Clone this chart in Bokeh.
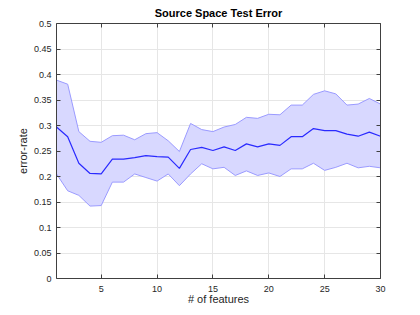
from bokeh.plotting import figure
from bokeh.models import ColumnDataSource, FixedTicker, LinearAxis, Range1d, Title
from bokeh.embed import file_html
from bokeh.resources import INLINE

n_features = list(range(1, 31))
mean_err = [0.297, 0.278, 0.226, 0.206, 0.205, 0.234, 0.234, 0.237, 0.241, 0.239,
            0.238, 0.216, 0.253, 0.257, 0.251, 0.258, 0.251, 0.264, 0.258, 0.264,
            0.261, 0.278, 0.278, 0.294, 0.290, 0.290, 0.283, 0.279, 0.287, 0.279]
upper_err = [0.389, 0.381, 0.288, 0.269, 0.267, 0.280, 0.281, 0.272, 0.284, 0.286,
             0.270, 0.249, 0.304, 0.292, 0.288, 0.297, 0.302, 0.316, 0.314, 0.322,
             0.321, 0.340, 0.340, 0.361, 0.368, 0.362, 0.340, 0.342, 0.353, 0.342]
lower_err = [0.205, 0.172, 0.163, 0.142, 0.143, 0.189, 0.189, 0.205, 0.198, 0.191,
             0.205, 0.182, 0.205, 0.225, 0.215, 0.218, 0.202, 0.211, 0.202, 0.207,
             0.200, 0.215, 0.215, 0.226, 0.212, 0.218, 0.226, 0.217, 0.220, 0.217]
x_ticks = [5, 10, 15, 20, 25, 30]
y_ticks = [0, 0.05, 0.1, 0.15, 0.2, 0.25, 0.3, 0.35, 0.4, 0.45, 0.5]
y_labels = ["0", "0.05", "0.1", "0.15", "0.2", "0.25", "0.3", "0.35", "0.4", "0.45", "0.5"]

src = ColumnDataSource(dict(x=n_features, m=mean_err, lo=lower_err, hi=upper_err))

p = figure(width=412, height=307, output_backend="svg", toolbar_location=None,
           x_range=Range1d(1, 30), y_range=Range1d(0, 0.5),
           min_border_left=56, min_border_right=32, min_border_bottom=27, min_border_top=23)
p.title = Title(text="Source Space Test Error", align="center",
                text_font="Liberation Sans", text_font_size="11px", text_font_style="bold",
                text_color="#000000", standoff=9)
p.outline_line_color = None
p.background_fill_color = "white"

p.varea(x="x", y1="lo", y2="hi", source=src, fill_color="#d8d8ff", fill_alpha=1)
p.line(x="x", y="hi", source=src, line_color="#9a9aff", line_width=1)
p.line(x="x", y="lo", source=src, line_color="#9a9aff", line_width=1)
p.line(x="x", y="m", source=src, line_color="#2a2aff", line_width=1.2)

p.xgrid.ticker = FixedTicker(ticks=x_ticks)
p.ygrid.ticker = FixedTicker(ticks=y_ticks)
p.xgrid.grid_line_color = "#e6e6e6"
p.ygrid.grid_line_color = "#e6e6e6"
p.grid.level = "underlay"

ax_col = "#404040"
for ax in [p.xaxis[0], p.yaxis[0]]:
    ax.axis_line_color = ax_col
    ax.major_tick_line_color = ax_col
    ax.major_tick_in = 4
    ax.major_tick_out = 0
    ax.minor_tick_line_color = None
    ax.major_label_text_font = "Liberation Sans"
    ax.major_label_text_font_size = "9px"
    ax.major_label_text_color = "#262626"
    ax.axis_label_text_font = "Liberation Sans"
    ax.axis_label_text_font_size = "11px"
    ax.axis_label_text_font_style = "normal"
    ax.axis_label_text_color = "#262626"

p.xaxis.ticker = FixedTicker(ticks=x_ticks)
p.yaxis.ticker = FixedTicker(ticks=y_ticks)
p.yaxis.major_label_overrides = {t: l for t, l in zip(y_ticks, y_labels)}
p.xaxis.axis_label = "# of features"
p.yaxis.axis_label = "error-rate"
p.xaxis.major_label_standoff = 7
p.yaxis.major_label_standoff = 5
p.xaxis.axis_label_standoff = -2
p.yaxis.axis_label_standoff = 2

top = LinearAxis(ticker=FixedTicker(ticks=x_ticks),
                 major_label_overrides={t: "" for t in x_ticks},
                 axis_line_color=ax_col, major_tick_line_color=ax_col,
                 major_tick_in=4, major_tick_out=0, minor_tick_line_color=None,
                 major_label_standoff=0)
right = LinearAxis(ticker=FixedTicker(ticks=y_ticks),
                   major_label_overrides={t: "" for t in y_ticks},
                   axis_line_color=ax_col, major_tick_line_color=ax_col,
                   major_tick_in=4, major_tick_out=0, minor_tick_line_color=None,
                   major_label_standoff=0)
p.add_layout(top, "above")
p.add_layout(right, "right")

open("out.html", "w").write(file_html(p, INLINE))
